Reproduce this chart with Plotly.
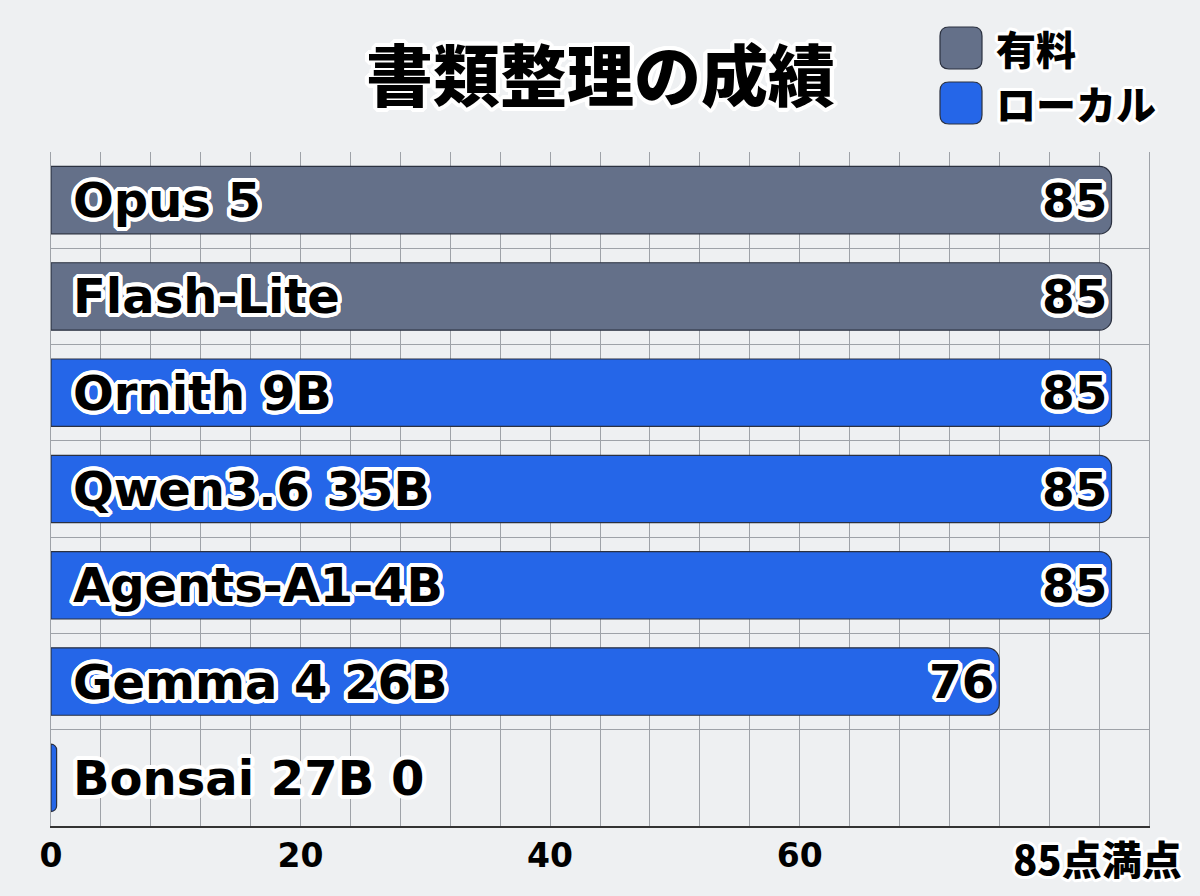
import plotly.graph_objects as go

# ---- data ----
models = ["Opus 5", "Flash-Lite", "Ornith 9B", "Qwen3.6 35B", "Agents-A1-4B", "Gemma 4 26B", "Bonsai 27B"]
scores = [85, 85, 85, 85, 85, 76, 0]
groups = ["有料", "有料", "ローカル", "ローカル", "ローカル", "ローカル", "ローカル"]
x_ticks = [0, 20, 40, 60]
full_score = 85
title_text = "書類整理の成績"
full_label = "85点満点"

group_colors = {"有料": "#647089", "ローカル": "#2566e8"}
BG = "#eef0f2"
FONT = "'DejaVu Sans', 'Noto Sans CJK JP', sans-serif"
JFONT = "'Noto Sans CJK JP', sans-serif"

def outline(w=3, col="#ffffff"):
    offs = []
    for dx in range(-w, w + 1):
        for dy in range(-w, w + 1):
            if dx * dx + dy * dy <= w * w + 1 and (dx or dy):
                offs.append(f"{dx}px {dy}px 0 {col}")
    return ", ".join(offs)

SH = outline(4)

# minimum visible stub for zero-valued bars
stub = 0.45
bar_len = [max(v, stub) for v in scores]

fig = go.Figure()
fig.add_trace(go.Bar(
    y=models, x=bar_len, orientation="h",
    marker=dict(color=[group_colors[g] for g in groups],
                line=dict(color="#2b3140", width=1.2), cornerradius=12),
    customdata=scores, hovertemplate="%{y}: %{customdata}<extra></extra>",
    showlegend=False,
))

L, R, T, B = 51, 51, 152, 70
W, H = 1200, 896
pw, ph = W - L - R, H - T - B

def px2paper(x, y):
    return (x - L) / pw, (H - B - y) / ph

annotations = []
for m, v in zip(models, scores):
    label = m if v > 0 else f"{m} {v}"
    annotations.append(dict(x=0, y=m, xref="x", yref="y", text=label, showarrow=False,
                            xanchor="left", yanchor="middle", xshift=20,
                            font=dict(family=FONT, size=48, color="#000", weight=700, shadow=SH)))
    if v > 0:
        annotations.append(dict(x=v, y=m, xref="x", yref="y", text=str(v), showarrow=False,
                                xanchor="right", yanchor="middle", xshift=-3,
                                font=dict(family=FONT, size=47, color="#000", weight=700, shadow=SH)))

# full score label under axis
fx, fy = px2paper(0, 858)
annotations.append(dict(x=full_score, y=fy, xref="x", yref="paper", text=full_label, showarrow=False,
                        xanchor="center", yanchor="middle", xshift=-14,
                        font=dict(family=JFONT, size=40, color="#000", weight=900, shadow=outline(3))))
# title
tx, ty = px2paper(600, 71)
annotations.append(dict(x=tx, y=ty, xref="paper", yref="paper", text=title_text,
                        showarrow=False, xanchor="center", yanchor="middle",
                        font=dict(family=JFONT, size=67, color="#000", weight=900, shadow=outline(4))))

# custom legend
def rounded_rect(x0, y0, x1, y1, r):
    def P(x, y):
        a, b = px2paper(x, y)
        return f"{a:.5f},{b:.5f}"
    return (f"M{P(x0 + r, y0)} L{P(x1 - r, y0)} Q{P(x1, y0)} {P(x1, y0 + r)} "
            f"L{P(x1, y1 - r)} Q{P(x1, y1)} {P(x1 - r, y1)} L{P(x0 + r, y1)} "
            f"Q{P(x0, y1)} {P(x0, y1 - r)} L{P(x0, y0 + r)} Q{P(x0, y0)} {P(x0 + r, y0)} Z")

shapes = []
leg_items = list(dict.fromkeys(groups))
for i, g in enumerate(leg_items):
    cy = 48 + i * 55
    shapes.append(dict(type="path", xref="paper", yref="paper",
                       path=rounded_rect(940, cy - 21, 982, cy + 21, 9),
                       fillcolor=group_colors[g], line=dict(color="#2b3140", width=1.2)))
    lx, ly = px2paper(994, cy)
    annotations.append(dict(x=lx, y=ly, xref="paper", yref="paper", text=g, showarrow=False,
                            xanchor="left", yanchor="middle",
                            font=dict(family=JFONT, size=40, color="#000", weight=900, shadow=outline(3))))

fig.update_layout(
    width=W, height=H, margin=dict(l=L, r=R, t=T, b=B),
    paper_bgcolor=BG, plot_bgcolor=BG,
    bargap=0.3,
    annotations=annotations, shapes=shapes,
    xaxis=dict(range=[0, 88], tickvals=x_ticks, ticktext=[str(t) for t in x_ticks],
               showgrid=True, gridcolor="#9ea2a8", gridwidth=1,
               minor=dict(dtick=4, tick0=0, showgrid=True, gridcolor="#9ea2a8", gridwidth=1),
               zeroline=False, showline=True, linecolor="#333", linewidth=1.5,
               tickfont=dict(family=FONT, size=33, color="#000", weight=700),
               ticks="", fixedrange=True),
    yaxis=dict(categoryorder="array", categoryarray=models[::-1], type="category",
               showticklabels=False, tickson="boundaries", ticks="",
               showgrid=True, gridcolor="#9ea2a8", gridwidth=1,
               showline=True, mirror=True, linecolor="#9ea2a8", linewidth=1),
)

fig.write_html("out.html", config={"displayModeBar": False},
               post_script="document.body.style.margin='0';document.body.style.background='%s';" % BG)
